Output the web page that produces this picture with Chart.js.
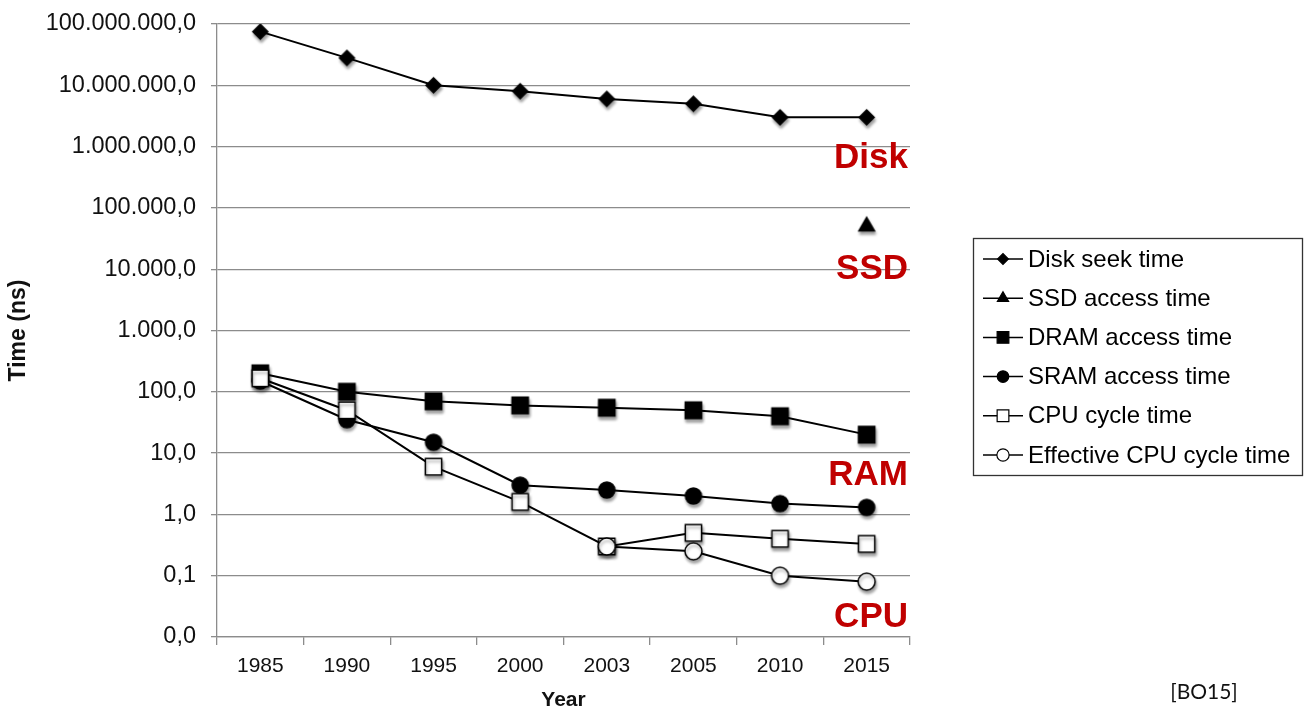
<!DOCTYPE html>
<html>
<head>
<meta charset="utf-8">
<title>Storage and CPU latency</title>
<script src="https://cdn.jsdelivr.net/npm/chart.js@4/dist/chart.umd.min.js"></script>
<style>
  html, body { margin: 0; padding: 0; background: #fff; }
  #wrap { position: relative; width: 1304px; height: 708px; }
</style>
</head>
<body>
<div id="wrap"><canvas id="latencyChart" width="1304" height="708"></canvas></div>
<script>
const years = ['1985', '1990', '1995', '2000', '2003', '2005', '2010', '2015'];
const diskSeek = [75000000, 28000000, 10000000, 8000000, 6000000, 5000000, 3000000, 3000000];
const ssdAccess = [null, null, null, null, null, null, null, 50000];
const dramAccess = [200, 100, 70, 60, 55, 50, 40, 20];
const sramAccess = [150, 35, 15, 3, 2.5, 2, 1.5, 1.3];
const cpuCycle = [166, 50, 6, 1.6, 0.3, 0.5, 0.4, 0.33];
const effectiveCpuCycle = [null, null, null, null, 0.3, 0.25, 0.1, 0.08];

const yTicks = [0.01, 0.1, 1, 10, 100, 1000, 10000, 100000, 1000000, 10000000, 100000000];
const yTickLabels = ['0,0', '0,1', '1,0', '10,0', '100,0', '1.000,0', '10.000,0', '100.000,0',
                     '1.000.000,0', '10.000.000,0', '100.000.000,0'];

const seriesNames = ['Disk seek time', 'SSD access time', 'DRAM access time',
                     'SRAM access time', 'CPU cycle time', 'Effective CPU cycle time'];
const calloutNames = ['Disk', 'SSD', 'RAM', 'CPU'];
const calloutAt = [650000, 10000, 4.4, 0.021];

const GRID = '#8c8c8c';
const RED = '#c00000';
const FONT = '"Liberation Sans", Arial, sans-serif';

// marker look per series: [pointStyle, radius, fill]
const markers = [
    ['rectRot', 7.5, '#000'],
    ['triangle', 9, '#000'],
    ['rect', 11.5, '#000'],
    ['circle', 8, '#000'],
    ['rect', 11.5, '#fff'],
    ['circle', 8.5, '#fff']
];

// pre-render each marker with a soft drop shadow
function makeMarker(style, radius, fill) {
    const size = Math.ceil(radius * 2 + 14);
    const c = document.createElement('canvas');
    c.width = size; c.height = size;
    const g = c.getContext('2d');
    g.shadowColor = 'rgba(0,0,0,0.35)';
    g.shadowBlur = 3;
    g.shadowOffsetX = 1;
    g.shadowOffsetY = 3;
    g.fillStyle = fill;
    g.strokeStyle = '#000';
    g.lineWidth = 1.5;
    Chart.helpers.drawPoint(g, { pointStyle: style, radius: radius, rotation: 0, borderWidth: 1.5 }, size / 2, size / 2);
    return c;
}

const seriesData = [diskSeek, ssdAccess, dramAccess, sramAccess, cpuCycle, effectiveCpuCycle];
const datasets = seriesData.map((d, i) => ({
    label: seriesNames[i],
    data: d,
    borderColor: '#000',
    borderWidth: 2,
    backgroundColor: markers[i][2],
    pointStyle: makeMarker(markers[i][0], markers[i][1], markers[i][2]),
    tension: 0,
    order: seriesData.length - i
}));

const legendBox = {
    id: 'legendBox',
    afterDraw(chart) {
        const ctx = chart.ctx;
        ctx.save();
        ctx.strokeStyle = '#333';
        ctx.lineWidth = 1.3;
        ctx.strokeRect(973.5, 238.5, 329, 237);
        ctx.font = '24px ' + FONT;
        ctx.textBaseline = 'middle';
        ctx.textAlign = 'left';
        seriesNames.forEach((name, i) => {
            const y = 259 + i * 39.2;
            ctx.strokeStyle = '#000';
            ctx.lineWidth = 1.5;
            ctx.beginPath();
            ctx.moveTo(983, y);
            ctx.lineTo(1023, y);
            ctx.stroke();
            ctx.fillStyle = markers[i][2];
            ctx.lineWidth = 1.2;
            Chart.helpers.drawPoint(ctx, { pointStyle: markers[i][0], radius: markers[i][1] * 0.72, rotation: 0, borderWidth: 1.2 }, 1003, y);
            ctx.fillStyle = '#000';
            ctx.fillText(name, 1028, y + 1);
        });
        ctx.restore();
    }
};

const callouts = {
    id: 'callouts',
    afterDatasetsDraw(chart) {
        const ctx = chart.ctx;
        const y = chart.scales.y;
        ctx.save();
        ctx.font = 'bold 35px ' + FONT;
        ctx.fillStyle = RED;
        ctx.textAlign = 'right';
        ctx.textBaseline = 'middle';
        calloutNames.forEach((t, i) => ctx.fillText(t, 908, y.getPixelForValue(calloutAt[i])));
        ctx.font = '21px Lato, "Open Sans", sans-serif';
        ctx.fillStyle = '#111';
        ctx.textAlign = 'center';
        ctx.fillText('[BO15]', 1204, 692);
        ctx.restore();
    }
};

new Chart(document.getElementById('latencyChart'), {
    type: 'line',
    data: { labels: years, datasets: datasets },
    options: {
        responsive: false,
        animation: false,
        events: [],
        layout: { padding: { top: 24, right: 394, left: 0, bottom: 0 } },
        plugins: { legend: { display: false }, tooltip: { enabled: false } },
        elements: { line: { borderWidth: 2 } },
        scales: {
            x: {
                type: 'category',
                offset: true,
                grid: { offset: true, drawOnChartArea: false, color: GRID, lineWidth: 1.3, tickLength: 8 },
                border: { color: GRID, width: 1.3 },
                ticks: { color: '#111', padding: 9, maxRotation: 0, font: { family: FONT, size: 21 } },
                title: { display: true, text: 'Year', color: '#111', padding: { top: 0, bottom: -5 },
                         font: { family: FONT, size: 21, weight: 'bold' } },
                afterFit(scale) {
                    scale.height = 71;
                    scale.paddingLeft = 0;
                    scale.paddingRight = 0;
                }
            },
            y: {
                type: 'logarithmic',
                min: 0.01,
                max: 100000000,
                grid: { color: GRID, lineWidth: 1.3, tickLength: 6 },
                border: { color: GRID, width: 1.3 },
                afterBuildTicks(scale) { scale.ticks = yTicks.map(v => ({ value: v })); },
                ticks: {
                    color: '#111', padding: 15,
                    font: { family: FONT, size: 23.5 },
                    callback: (v) => yTickLabels[yTicks.indexOf(v)]
                },
                title: { display: true, text: 'Time (ns)', color: '#111', padding: { top: 5, bottom: 0 },
                         font: { family: FONT, size: 23, weight: 'bold' } },
                afterFit(scale) {
                    scale.width = 217;
                    scale.paddingTop = 0;
                    scale.paddingBottom = 0;
                }
            }
        }
    },
    plugins: [callouts, legendBox]
});
</script>
</body>
</html>
